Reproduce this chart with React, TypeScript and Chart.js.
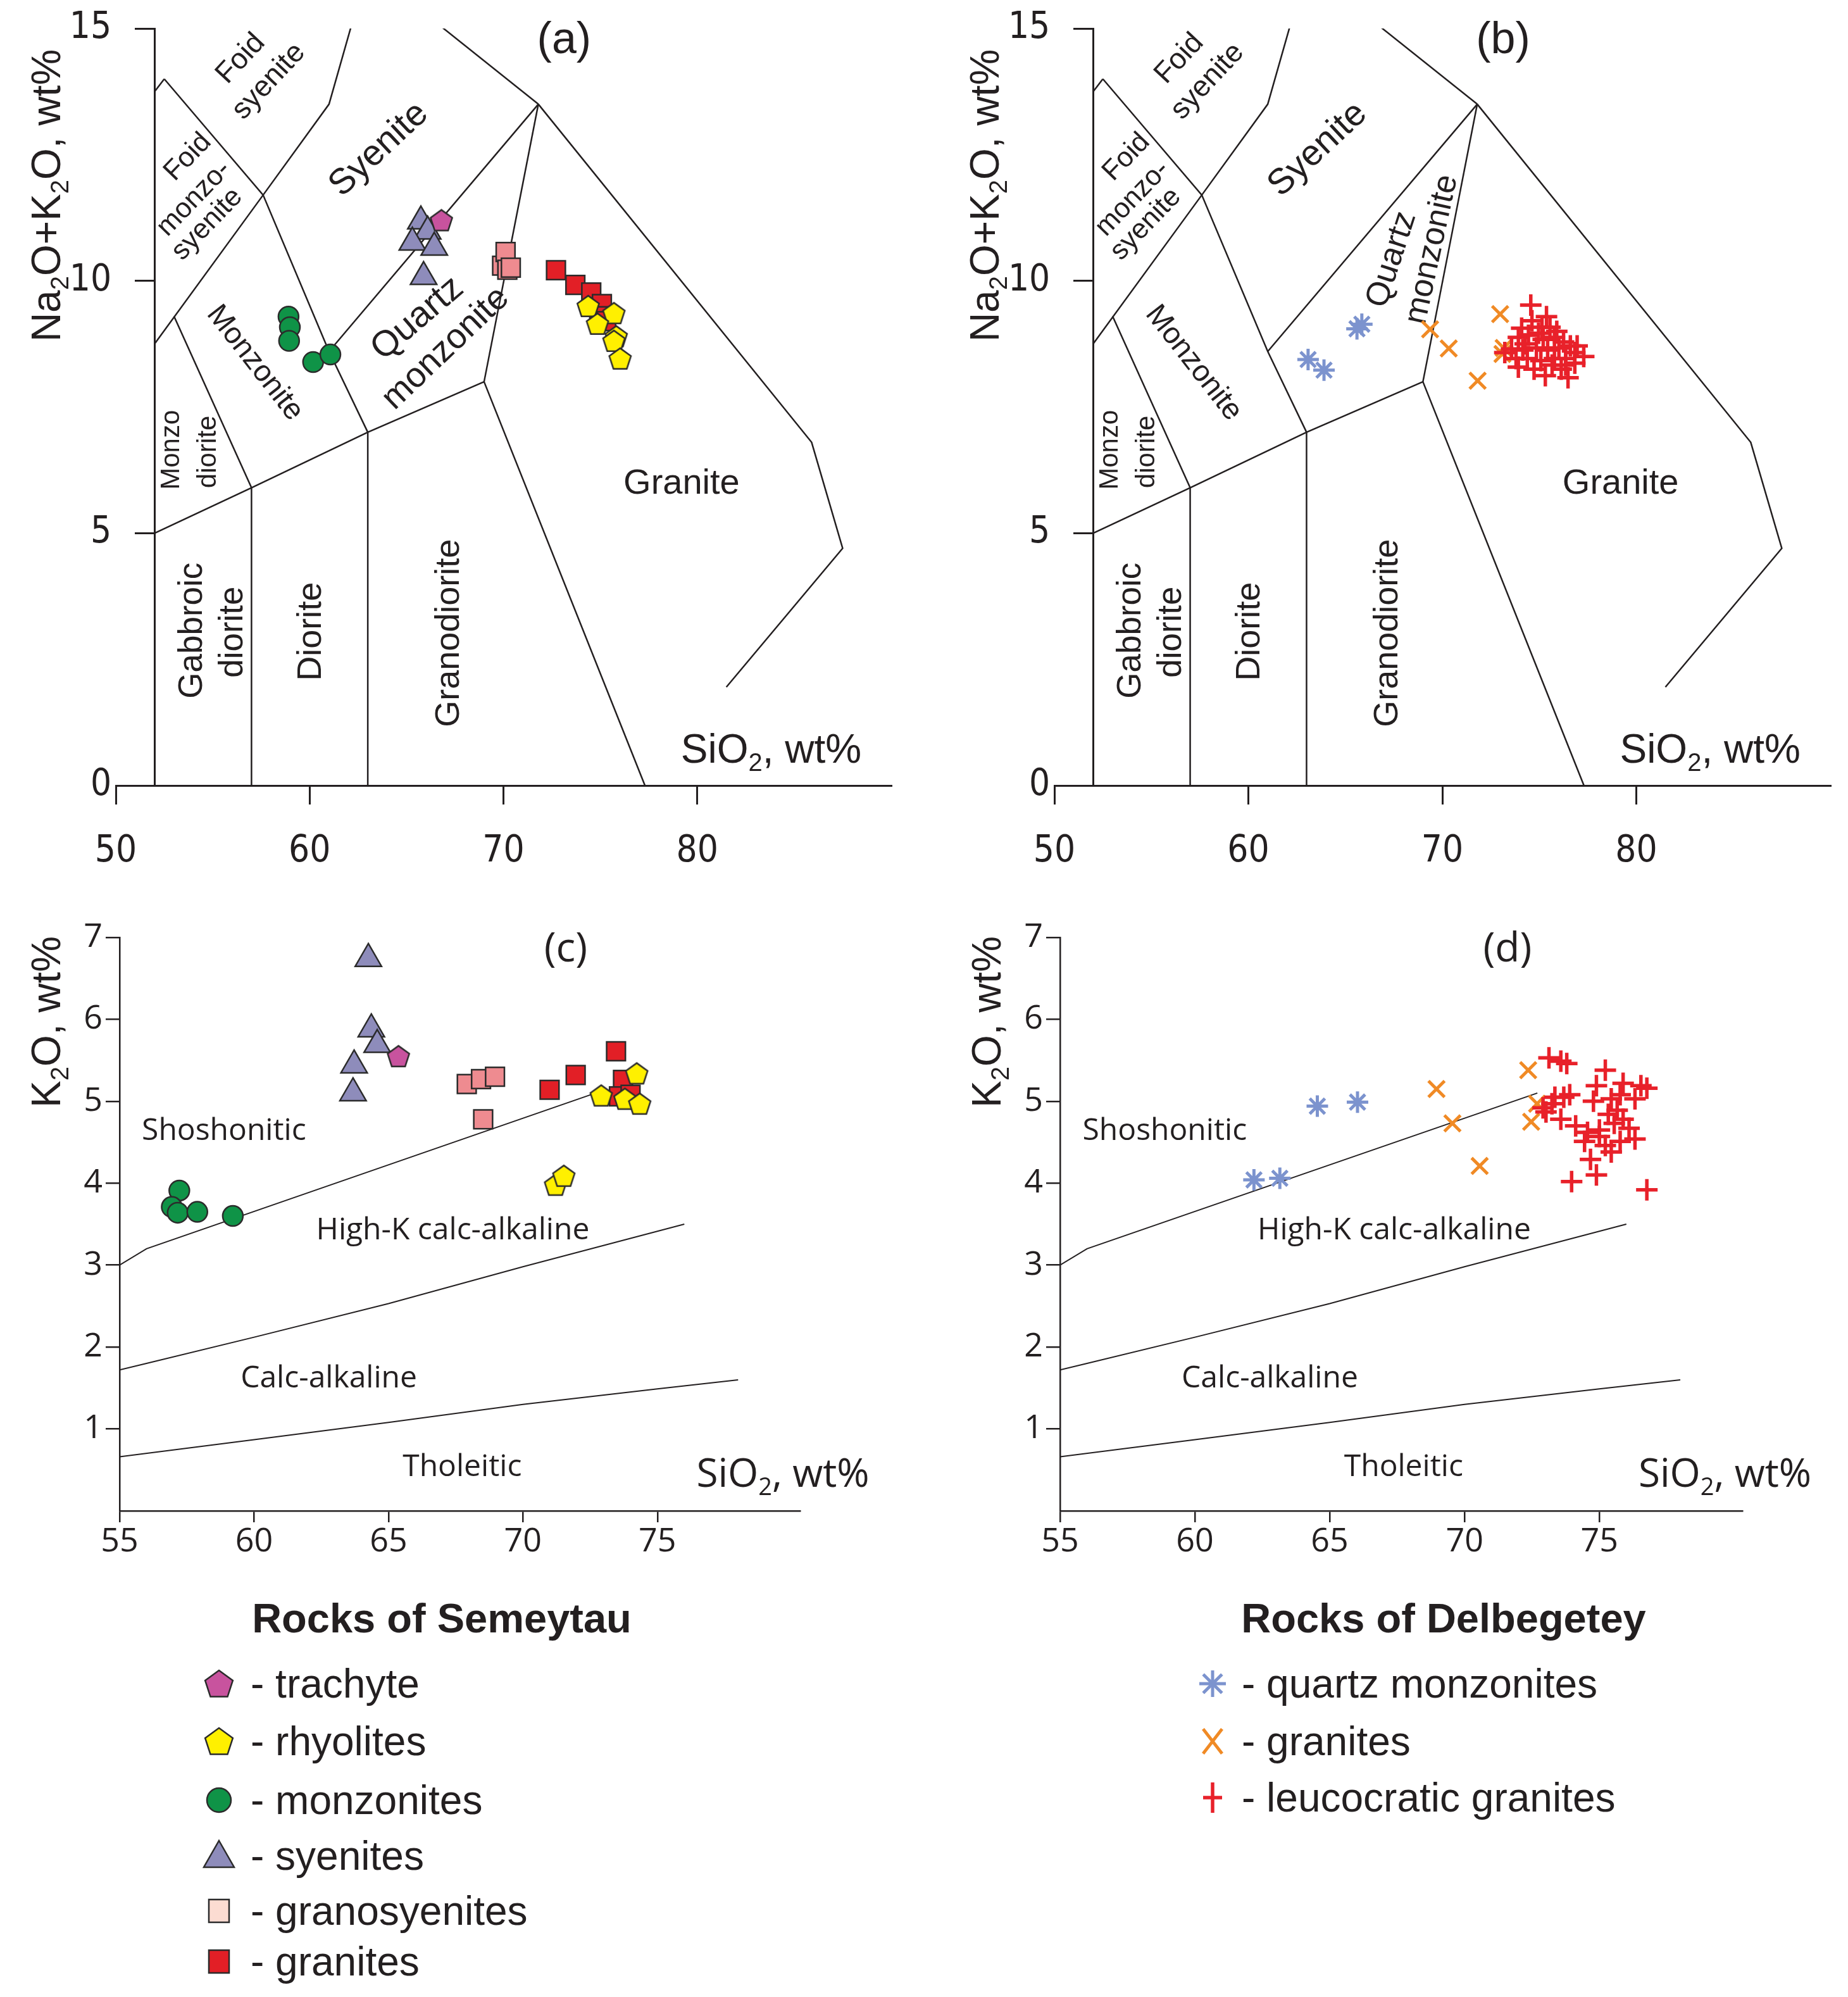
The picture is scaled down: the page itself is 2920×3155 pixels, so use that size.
import React, { useEffect, useRef } from 'react';
import { Chart, registerables } from 'chart.js';

Chart.register(...registerables);

type P = [number, number];
type Seg = [string, boolean];

// ---------------- axes ----------------
const tasXTicks = [50, 60, 70, 80];
const tasYTicks = [0, 5, 10, 15];
const k2oXTicks = [55, 60, 65, 70, 75];
const k2oYTicks = [1, 2, 3, 4, 5, 6, 7];

// ---------------- Semeytau, TAS (SiO2 vs Na2O+K2O) ----------------
const semTrachyteTAS: P[] = [[66.8, 11.2]];
const semSyenitesTAS: P[] = [[65.74, 11.18], [66.09, 10.98], [65.3, 10.76], [66.43, 10.66], [65.88, 10.08]];
const semGranosyenitesTAS: P[] = [[69.93, 10.3], [70.11, 10.57], [70.2, 10.22], [70.38, 10.26]];
const semGranitesTAS: P[] = [[72.71, 10.21], [73.71, 9.92], [74.53, 9.77], [75.08, 9.54], [74.94, 9.3], [75.3, 9.2]];
const semRhyolitesTAS: P[] = [[74.37, 9.5], [75.7, 9.36], [74.85, 9.15], [75.82, 8.9], [75.7, 8.81], [76.02, 8.46]];
const semMonzonitesTAS: P[] = [[58.91, 9.29], [58.98, 9.08], [58.94, 8.81], [60.18, 8.39], [61.07, 8.54]];

// ---------------- Semeytau, SiO2 vs K2O ----------------
const semTrachyteK: P[] = [[65.37, 5.55]];
const semSyenitesK: P[] = [[64.25, 6.74], [64.36, 5.88], [64.58, 5.69], [63.72, 5.44], [63.68, 5.1]];
const semGranosyenitesK: P[] = [[67.91, 5.21], [68.44, 5.27], [68.96, 5.3], [68.52, 4.78]];
const semGranitesK: P[] = [[70.99, 5.14], [71.96, 5.32], [73.46, 5.61], [73.72, 5.26], [73.57, 5.06], [74.0, 5.08]];
const semRhyolitesK: P[] = [[72.91, 5.07], [74.23, 5.34], [73.79, 5.03], [74.34, 4.97], [71.21, 3.98], [71.52, 4.09]];
const semMonzonitesK: P[] = [[57.22, 3.91], [56.94, 3.71], [57.16, 3.64], [57.89, 3.65], [59.21, 3.6]];

// ---------------- Delbegetey, TAS ----------------
const delQuartzMonzTAS: P[] = [[63.08, 8.44], [63.9, 8.23], [65.6, 9.05], [65.85, 9.14]];
const delGranitesTAS: P[] = [[69.37, 9.04], [70.33, 8.66], [72.98, 9.34], [73.16, 8.67], [71.82, 8.02], [73.1, 8.55]];
const delLeucoTAS: P[] = [
  [74.56, 9.52], [75.37, 9.29], [74.09, 9.06], [74.62, 9.21], [75.14, 9.08], [73.92, 8.88], [74.44, 8.92],
  [75.2, 8.84], [75.78, 8.88], [76.25, 8.79], [76.6, 8.71], [73.57, 8.65], [74.15, 8.63], [74.85, 8.67],
  [75.43, 8.63], [76.01, 8.67], [76.83, 8.58], [77.29, 8.5], [73.22, 8.58], [73.8, 8.46], [74.38, 8.46],
  [75.08, 8.42], [75.78, 8.46], [76.36, 8.46], [76.83, 8.37], [73.92, 8.29], [74.73, 8.25], [75.31, 8.12],
  [76.13, 8.25], [76.48, 8.08], [76.36, 8.33], [75.66, 8.33], [74.27, 8.75], [74.96, 8.96], [75.55, 9.08],
  [75.9, 9.0], [76.95, 8.71],
];

// ---------------- Delbegetey, SiO2 vs K2O ----------------
const delQuartzMonzK: P[] = [[62.19, 4.04], [63.15, 4.06], [64.54, 4.94], [66.03, 4.99]];
const delGranitesK: P[] = [[68.96, 5.15], [69.55, 4.73], [70.56, 4.21], [72.36, 5.38], [72.69, 4.97], [72.47, 4.75]];
const delLeucoK: P[] = [
  [73.13, 5.53], [73.57, 5.49], [73.79, 5.46], [75.22, 5.38], [74.89, 5.19], [75.88, 5.22], [76.54, 5.19],
  [76.76, 5.16], [72.91, 4.92], [73.24, 4.97], [73.68, 5.05], [73.9, 5.08], [73.57, 4.78], [74.12, 4.7],
  [74.78, 5.0], [75.44, 5.03], [75.77, 5.08], [76.32, 5.03], [75.66, 4.89], [74.56, 4.62], [75.0, 4.65],
  [75.55, 4.73], [75.88, 4.78], [74.45, 4.51], [75.22, 4.46], [75.77, 4.51], [76.32, 4.54], [75.44, 4.38],
  [74.67, 4.29], [74.89, 4.1], [73.97, 4.02], [76.76, 3.92], [73.02, 4.87], [76.1, 4.67], [75.0, 4.57],
  [75.33, 4.84], [73.35, 5.05],
];

// ---------------- classification boundaries ----------------
const tasBoundaries: P[][] = [
  [[52, 5], [57, 5.9], [63, 7], [69, 8]],
  [[57, 0], [57, 5.9]],
  [[63, 0], [63, 7]],
  [[69, 8], [77.3, 0]],
  [[57, 5.9], [53, 9.3]],
  [[52, 8.75], [57.6, 11.7], [61, 13.5], [63, 16.2]],
  [[52, 13.75], [52.5, 14]],
  [[52.5, 14], [57.6, 11.7], [61, 8.6], [63, 7]],
  [[61, 8.6], [71.8, 13.5]],
  [[69, 8], [71.8, 13.5]],
  [[71.8, 13.5], [63, 16.2]],
  [[71.8, 13.5], [85.9, 6.8], [87.5, 4.7], [81.5, 1.95]],
];
const k2oBoundaries: P[][] = [
  [[55, 3.0], [56, 3.2], [72.7, 5.1]],
  [[55, 1.72], [56, 1.8], [60, 2.12], [65, 2.53], [70, 2.98], [76, 3.5]],
  [[55, 0.66], [60, 0.87], [65, 1.08], [70, 1.3], [75, 1.49], [78, 1.6]],
];

// ---------------- legend names ----------------
const semeytauNames = ['trachyte', 'rhyolites', 'monzonites', 'syenites', 'granosyenites', 'granites'];
const delbegeteyNames = ['quartz monzonites', 'granites', 'leucocratic granites'];

// ---------------- styling ----------------
const INK = '#231F20';
const SANS = '"Liberation Sans", Arial, Helvetica, sans-serif';
const NARROW = '"Liberation Sans Narrow", "Arial Narrow", "DejaVu Sans Condensed", "Liberation Sans", sans-serif';
const OPEN = '"Open Sans", "Noto Sans", sans-serif';
const C = {
  trachyte: '#C8539E',
  rhyolite: '#FFF000',
  monzonite: '#0F9347',
  syenite: '#8E8CBB',
  granosyenite: '#EE8B90',
  granosyeniteLegend: '#FCDCD2',
  granite: '#E21F26',
  qm: '#7C93CE',
  dgranite: '#F08A25',
  leuco: '#E8212A',
  edge: '#2B2B2B',
};

interface Lbl {
  t: string | Seg[];
  x: number;
  y: number;
  r?: number;
  s: number;
  f?: string;
  w?: string;
  a?: 'center' | 'left' | 'right';
  b?: CanvasTextBaseline;
  dx?: number;
}

const tasCommonLabels: Lbl[] = [
  { t: 'Foid', x: 56.45, y: 14.4, r: -47, s: 46 },
  { t: 'syenite', x: 57.9, y: 13.95, r: -47, s: 46 },
  { t: 'Foid', x: 53.72, y: 12.45, r: -46, s: 44 },
  { t: 'monzo-', x: 54.04, y: 11.63, r: -46, s: 44 },
  { t: 'syenite', x: 54.72, y: 11.12, r: -46, s: 44 },
  { t: 'Syenite', x: 63.58, y: 12.6, r: -43, s: 57 },
  { t: 'Monzonite', x: 57.17, y: 8.37, r: 52, s: 47 },
  { t: 'Monzo', x: 52.89, y: 6.65, r: -90, s: 42 },
  { t: 'diorite', x: 54.79, y: 6.61, r: -90, s: 42 },
  { t: 'Gabbroic', x: 53.95, y: 3.07, r: -90, s: 53 },
  { t: 'diorite', x: 56.04, y: 3.04, r: -90, s: 53 },
  { t: 'Diorite', x: 60.08, y: 3.05, r: -90, s: 54 },
  { t: 'Granodiorite', x: 67.2, y: 3.02, r: -90, s: 54 },
  { t: 'Granite', x: 79.19, y: 5.97, s: 56 },
  { t: [['SiO', false], ['2', true], [', wt%', false]], x: 79.15, y: 0.45, s: 64, a: 'left', b: 'alphabetic' },
  {
    t: [['Na', false], ['2', true], ['O+K', false], ['2', true], ['O, wt%', false]],
    x: 47.13, y: 11.69, r: -90, s: 64, b: 'alphabetic',
  },
];
const tasSemLabels: Lbl[] = [
  { t: 'Quartz', x: 65.57, y: 9.25, r: -40.5, s: 57 },
  { t: 'monzonite', x: 67.03, y: 8.66, r: -43.7, s: 55 },
  { t: '(a)', x: 73.13, y: 14.75, s: 70 },
];
const tasDelLabels: Lbl[] = [
  { t: 'Quartz', x: 67.4, y: 10.42, r: -72, s: 52 },
  { t: 'monzonite', x: 69.47, y: 10.62, r: -77.7, s: 52 },
  { t: '(b)', x: 73.13, y: 14.75, s: 70 },
];
// y tick labels of the TAS panels (the axis sits at SiO2 = 52, labels drawn to its left)
const tasYTickLabels: Lbl[] = tasYTicks.map((v) => ({
  t: String(v), x: 52, y: v, s: 58, f: NARROW, a: 'right' as const, dx: -68,
}));
const k2oCommonLabels: Lbl[] = [
  { t: 'Shoshonitic', x: 58.88, y: 4.63, s: 48, f: OPEN },
  { t: 'High-K calc-alkaline', x: 67.39, y: 3.42, s: 48, f: OPEN },
  { t: 'Calc-alkaline', x: 62.78, y: 1.61, s: 48, f: OPEN },
  { t: 'Tholeitic', x: 67.74, y: 0.534, s: 48, f: OPEN },
  { t: [['SiO', false], ['2', true], [', wt%', false]], x: 76.45, y: 0.29, s: 62, f: OPEN, a: 'left', b: 'alphabetic' },
  { t: [['K', false], ['2', true], ['O, wt%', false]], x: 52.79, y: 5.97, r: -90, s: 64, b: 'alphabetic' },
];

function makeLabelsPlugin(items: Lbl[]) {
  return {
    id: 'rockLabels',
    beforeDatasetsDraw(chart: any) {
      const ctx: CanvasRenderingContext2D = chart.ctx;
      const xs = chart.scales.x;
      const ys = chart.scales.y;
      items.forEach((l) => {
        const px = xs.getPixelForValue(l.x) + (l.dx || 0);
        const py = ys.getPixelForValue(l.y);
        const fam = l.f || SANS;
        const segs: Seg[] = typeof l.t === 'string' ? [[l.t, false]] : l.t;
        ctx.save();
        ctx.translate(px, py);
        if (l.r) ctx.rotate((l.r * Math.PI) / 180);
        ctx.fillStyle = INK;
        ctx.textBaseline = l.b || 'middle';
        ctx.textAlign = 'left';
        const fontFor = (sub: boolean) => `${l.w || 'normal'} ${sub ? Math.round(l.s * 0.62) : l.s}px ${fam}`;
        let total = 0;
        const ws = segs.map(([t, sub]) => {
          ctx.font = fontFor(sub);
          const w = ctx.measureText(t).width;
          total += w;
          return w;
        });
        const al = l.a || 'center';
        let cx = al === 'center' ? -total / 2 : al === 'right' ? -total : 0;
        segs.forEach(([t, sub], i) => {
          ctx.font = fontFor(sub);
          ctx.fillText(t, cx, sub ? l.s * 0.2 : 0);
          cx += ws[i];
        });
        ctx.restore();
      });
    },
  };
}

function pentagonCanvas(fill: string, r: number, lw: number): HTMLCanvasElement {
  const size = Math.ceil(2 * r + 2 * lw + 2);
  const c = document.createElement('canvas');
  c.width = size;
  c.height = size;
  const g = c.getContext('2d')!;
  const cx = size / 2;
  const cy = size / 2 + r * 0.09;
  g.beginPath();
  for (let k = 0; k < 5; k++) {
    const a = -Math.PI / 2 + (k * 2 * Math.PI) / 5;
    const x = cx + r * Math.cos(a);
    const y = cy + r * Math.sin(a);
    if (k === 0) g.moveTo(x, y);
    else g.lineTo(x, y);
  }
  g.closePath();
  g.fillStyle = fill;
  g.fill();
  g.lineWidth = lw;
  g.lineJoin = 'miter';
  g.strokeStyle = C.edge;
  g.stroke();
  return c;
}

const toXY = (pts: P[]) => pts.map(([x, y]) => ({ x, y }));

function lineDs(pts: P[], width: number) {
  return {
    data: toXY(pts),
    showLine: true,
    borderColor: INK,
    borderWidth: width,
    pointRadius: 0,
    pointHoverRadius: 0,
    fill: false,
    tension: 0,
    order: 20,
  };
}

function markerDs(pts: P[], style: any, r: number, fill: string, stroke: string, bw: number, order: number) {
  return {
    data: toXY(pts),
    showLine: false,
    pointStyle: style,
    pointRadius: r,
    pointHoverRadius: r,
    pointBackgroundColor: fill,
    pointBorderColor: stroke,
    pointBorderWidth: bw,
    pointHoverBorderWidth: bw,
    order,
  };
}

const setTicks = (vals: number[]) => (s: any) => {
  s.ticks = vals.map((v) => ({ value: v }));
};
const axisGrid = (len: number, w: number) => ({
  display: true,
  drawOnChartArea: false,
  drawTicks: true,
  tickLength: len,
  tickWidth: w,
  tickColor: INK,
  color: INK,
  lineWidth: w,
});
const axisBorder = (w: number) => ({ display: true, color: INK, width: w });

function semMarkersTAS() {
  return [
    markerDs(semTrachyteTAS, pentagonCanvas(C.trachyte, 18, 2.5), 18, C.trachyte, C.edge, 2.5, 1),
    markerDs(semRhyolitesTAS, pentagonCanvas(C.rhyolite, 18, 2.5), 18, C.rhyolite, C.edge, 2.5, 2),
    markerDs(semGranitesTAS, 'rect', 21, C.granite, C.edge, 2.5, 3),
    markerDs(semGranosyenitesTAS, 'rect', 21, C.granosyenite, C.edge, 2.5, 3),
    markerDs(semSyenitesTAS, 'triangle', 24, C.syenite, C.edge, 2.5, 3),
    markerDs(semMonzonitesTAS, 'circle', 16, C.monzonite, C.edge, 2.5, 3),
  ];
}
function semMarkersK() {
  return [
    markerDs(semTrachyteK, pentagonCanvas(C.trachyte, 18, 2.5), 18, C.trachyte, C.edge, 2.5, 1),
    markerDs(semRhyolitesK, pentagonCanvas(C.rhyolite, 18, 2.5), 18, C.rhyolite, C.edge, 2.5, 2),
    markerDs(semGranitesK, 'rect', 21, C.granite, C.edge, 2.5, 3),
    markerDs(semGranosyenitesK, 'rect', 21, C.granosyenite, C.edge, 2.5, 3),
    markerDs(semSyenitesK, 'triangle', 24, C.syenite, C.edge, 2.5, 3),
    markerDs(semMonzonitesK, 'circle', 16, C.monzonite, C.edge, 2.5, 3),
  ];
}
function delMarkersTAS() {
  return [
    markerDs(delQuartzMonzTAS, 'star', 17, C.qm, C.qm, 5, 1),
    markerDs(delGranitesTAS, 'crossRot', 18, C.dgranite, C.dgranite, 5, 2),
    markerDs(delLeucoTAS, 'cross', 17, C.leuco, C.leuco, 5.5, 1),
  ];
}
function delMarkersK() {
  return [
    markerDs(delQuartzMonzK, 'star', 17, C.qm, C.qm, 5, 1),
    markerDs(delGranitesK, 'crossRot', 18, C.dgranite, C.dgranite, 5, 2),
    markerDs(delLeucoK, 'cross', 17, C.leuco, C.leuco, 5.5, 1),
  ];
}

function tasConfig(pad: any, markers: any[], extra: Lbl[]): any {
  return {
    type: 'scatter',
    data: { datasets: [...markers, ...tasBoundaries.map((b) => lineDs(b, 2.5))] },
    options: {
      animation: false,
      responsive: false,
      maintainAspectRatio: false,
      events: [],
      layout: { padding: pad },
      plugins: { legend: { display: false }, tooltip: { enabled: false } },
      scales: {
        x: {
          type: 'linear',
          min: 50,
          max: 90,
          afterBuildTicks: setTicks(tasXTicks),
          afterFit: (s: any) => {
            s.height = 150;
          },
          ticks: { color: INK, font: { family: NARROW, size: 58 }, padding: 40, maxRotation: 0, autoSkip: false },
          grid: axisGrid(30, 3),
          border: axisBorder(3),
        },
        y: {
          type: 'linear',
          min: 0,
          max: 15,
          position: { x: 52 },
          afterBuildTicks: setTicks(tasYTicks),
          ticks: { display: false },
          grid: axisGrid(30, 3),
          border: axisBorder(3),
        },
      },
    },
    plugins: [makeLabelsPlugin([...tasCommonLabels, ...tasYTickLabels, ...extra])],
  };
}

function k2oConfig(pad: any, markers: any[], letter: string): any {
  return {
    type: 'scatter',
    data: { datasets: [...markers, ...k2oBoundaries.map((b) => lineDs(b, 2))] },
    options: {
      animation: false,
      responsive: false,
      maintainAspectRatio: false,
      events: [],
      layout: { padding: pad },
      plugins: { legend: { display: false }, tooltip: { enabled: false } },
      scales: {
        x: {
          type: 'linear',
          min: 55,
          max: 80.3,
          afterBuildTicks: setTicks(k2oXTicks),
          afterFit: (s: any) => {
            s.height = 100;
          },
          ticks: { color: INK, font: { family: OPEN, size: 52 }, padding: 0, maxRotation: 0, autoSkip: false },
          grid: axisGrid(18, 2.5),
          border: axisBorder(2.5),
        },
        y: {
          type: 'linear',
          min: 0,
          max: 7,
          position: 'left',
          afterBuildTicks: setTicks(k2oYTicks),
          afterFit: (s: any) => {
            s.width = 60;
          },
          ticks: { color: INK, font: { family: OPEN, size: 52 }, padding: 5, autoSkip: false },
          grid: axisGrid(22, 2.5),
          border: axisBorder(2.5),
        },
      },
    },
    plugins: [makeLabelsPlugin([...k2oCommonLabels, { t: letter, x: 71.59, y: 6.85, s: 64, f: OPEN }])],
  };
}

function ChartCanvas(props: { left: number; top: number; width: number; height: number; build: () => any }) {
  const ref = useRef<HTMLCanvasElement>(null);
  useEffect(() => {
    const chart = new Chart(ref.current as HTMLCanvasElement, props.build());
    return () => chart.destroy();
  }, []);
  return (
    <canvas
      ref={ref}
      width={props.width}
      height={props.height}
      style={{ position: 'absolute', left: props.left, top: props.top, width: props.width, height: props.height }}
    />
  );
}

function LegendMarker({ kind, fill }: { kind: string; fill: string }) {
  const s = 64;
  const c = 32;
  let el: any = null;
  if (kind === 'pentagon') {
    const r = 23;
    const pts = [0, 1, 2, 3, 4]
      .map((k) => {
        const a = -Math.PI / 2 + (k * 2 * Math.PI) / 5;
        return `${c + r * Math.cos(a)},${c + 2 + r * Math.sin(a)}`;
      })
      .join(' ');
    el = <polygon points={pts} fill={fill} stroke={C.edge} strokeWidth={2.5} />;
  } else if (kind === 'circle') {
    el = <circle cx={c} cy={c} r={19} fill={fill} stroke={C.edge} strokeWidth={2.5} />;
  } else if (kind === 'triangle') {
    el = <polygon points={`${c},${c - 24} ${c + 24},${c + 18} ${c - 24},${c + 18}`} fill={fill} stroke={C.edge} strokeWidth={2.5} />;
  } else if (kind === 'rect') {
    el = <rect x={c - 16} y={c - 18} width={32} height={36} fill={fill} stroke={C.edge} strokeWidth={2.5} />;
  } else if (kind === 'star') {
    const r = 21;
    el = (
      <g stroke={fill} strokeWidth={5}>
        {[0, 45, 90, 135].map((d) => {
          const a = (d * Math.PI) / 180;
          return <line key={d} x1={c - r * Math.cos(a)} y1={c - r * Math.sin(a)} x2={c + r * Math.cos(a)} y2={c + r * Math.sin(a)} />;
        })}
      </g>
    );
  } else if (kind === 'x') {
    const r = 15;
    el = (
      <g stroke={fill} strokeWidth={5}>
        <line x1={c - r} y1={c - r * 1.3} x2={c + r} y2={c + r * 1.3} />
        <line x1={c + r} y1={c - r * 1.3} x2={c - r} y2={c + r * 1.3} />
      </g>
    );
  } else if (kind === 'plus') {
    const r = 24;
    el = (
      <g stroke={fill} strokeWidth={5.5}>
        <line x1={c - 15} y1={c} x2={c + 15} y2={c} />
        <line x1={c} y1={c - r} x2={c} y2={c + r} />
      </g>
    );
  }
  return (
    <svg width={s} height={s} viewBox={`0 0 ${s} ${s}`} style={{ position: 'absolute', left: -s / 2, top: -s / 2 }}>
      {el}
    </svg>
  );
}

function Legend(props: {
  title: string;
  titleX: number;
  markerX: number;
  textX: number;
  rows: number[];
  names: string[];
  kinds: string[];
  fills: string[];
}) {
  const textStyle: any = {
    position: 'absolute',
    left: props.textX,
    transform: 'translateY(-50%)',
    font: `normal 64px ${SANS}`,
    lineHeight: 1,
    color: INK,
    whiteSpace: 'nowrap',
  };
  return (
    <>
      <div
        style={{
          position: 'absolute',
          left: props.titleX,
          top: 2556,
          transform: 'translate(-50%, -50%)',
          font: `bold 65px ${SANS}`,
          lineHeight: 1,
          color: INK,
          whiteSpace: 'nowrap',
        }}
      >
        {props.title}
      </div>
      {props.names.map((n, i) => (
        <React.Fragment key={n + i}>
          <div style={{ position: 'absolute', left: props.markerX, top: props.rows[i], width: 0, height: 0 }}>
            <LegendMarker kind={props.kinds[i]} fill={props.fills[i]} />
          </div>
          <div style={{ ...textStyle, top: props.rows[i] }}>{'- ' + n}</div>
        </React.Fragment>
      ))}
    </>
  );
}

export default function App() {
  return (
    <div
      style={{
        position: 'absolute',
        left: 0,
        top: 0,
        width: 2920,
        height: 3155,
        background: '#ffffff',
        overflow: 'hidden',
      }}
    >
      <ChartCanvas
        left={0}
        top={0}
        width={1460}
        height={1420}
        build={() => tasConfig({ left: 183, right: 52, top: 45, bottom: 29 }, semMarkersTAS(), tasSemLabels)}
      />
      <ChartCanvas
        left={1460}
        top={0}
        width={1460}
        height={1420}
        build={() => tasConfig({ left: 206, right: 28, top: 45, bottom: 29 }, delMarkersTAS(), tasDelLabels)}
      />
      <ChartCanvas
        left={0}
        top={1400}
        width={1460}
        height={1100}
        build={() => k2oConfig({ left: 129, right: 196, top: 81, bottom: 13 }, semMarkersK(), '(c)')}
      />
      <ChartCanvas
        left={1460}
        top={1400}
        width={1460}
        height={1100}
        build={() => k2oConfig({ left: 155, right: 167, top: 81, bottom: 13 }, delMarkersK(), '(d)')}
      />
      <Legend
        title="Rocks of Semeytau"
        titleX={698}
        markerX={346}
        textX={396}
        rows={[2660, 2751, 2844, 2932, 3019, 3099]}
        names={semeytauNames}
        kinds={['pentagon', 'pentagon', 'circle', 'triangle', 'rect', 'rect']}
        fills={[C.trachyte, C.rhyolite, C.monzonite, C.syenite, C.granosyeniteLegend, C.granite]}
      />
      <Legend
        title="Rocks of Delbegetey"
        titleX={2281}
        markerX={1916}
        textX={1962}
        rows={[2660, 2751, 2840]}
        names={delbegeteyNames}
        kinds={['star', 'x', 'plus']}
        fills={[C.qm, C.dgranite, C.leuco]}
      />
    </div>
  );
}
